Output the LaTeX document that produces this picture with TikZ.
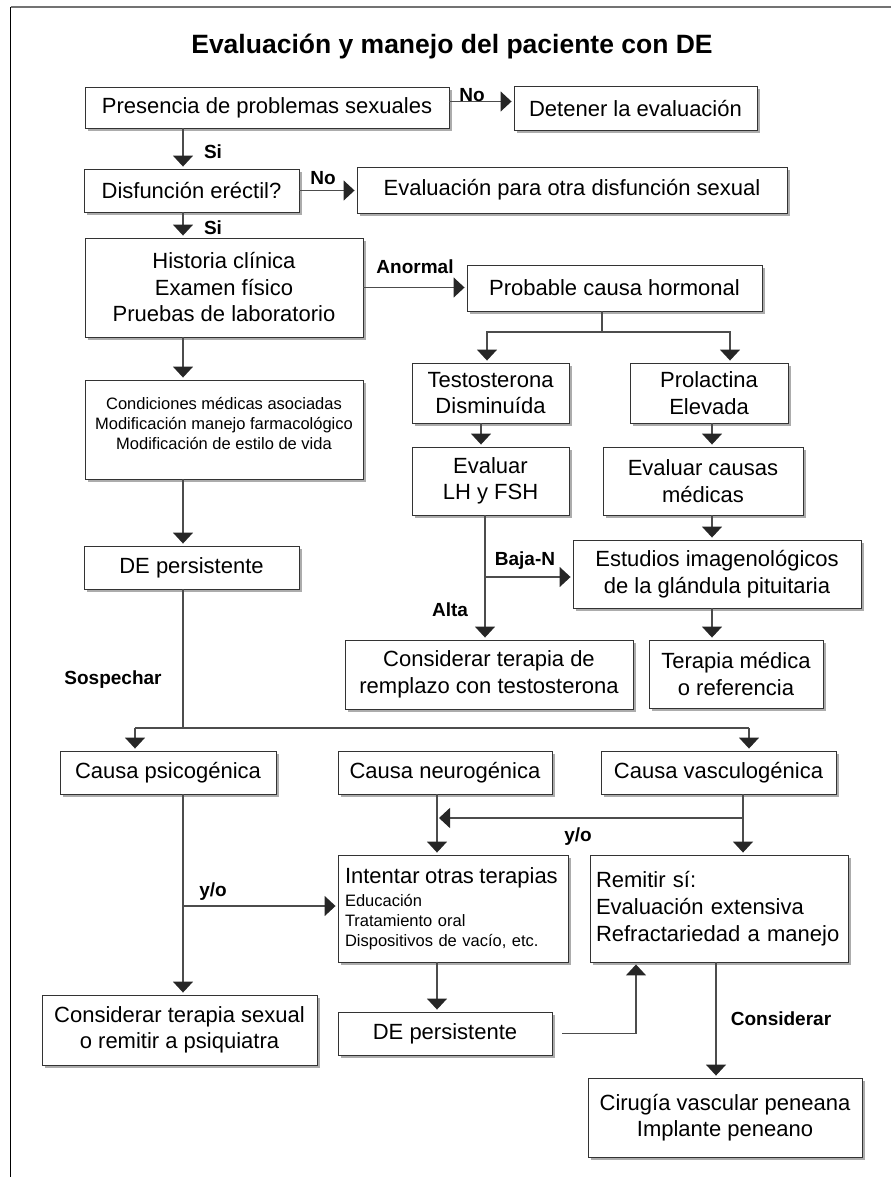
\documentclass[tikz,border=0pt]{standalone}
\usepackage{fontspec}
\setmainfont{Liberation Sans}
\usetikzlibrary{arrows.meta,shadows}

\tikzset{
  box/.style={draw=black!80, fill=white, line width=0.9pt, align=center, inner sep=0pt,
    font=\fontsize{22}{26.5}\selectfont,
    drop shadow={shadow xshift=3pt, shadow yshift=-3pt, fill=black!65, opacity=0.5}},
  sz/.style 2 args={minimum width=#1pt, minimum height=#2pt},
  lbl/.style={font=\bfseries\fontsize{19}{22}\selectfont, inner sep=0pt},
  ln/.style={draw=black!70, line width=1.5pt},
  arr/.style={ln, shorten >=2pt, -{Triangle[width=20pt,length=11pt,color=black!85]}},
}

\begin{document}
\begin{tikzpicture}[x=1pt,y=-1pt]
\useasboundingbox (0,0) rectangle (891,1177);
\draw[black!55, line width=2pt] (10.5,7) -- (891,7);
\draw[black, line width=1.5pt] (10.5,7) -- (10.5,1177);

\node[font=\bfseries\fontsize{26.5}{30}\selectfont] (title) at (452,47) {Evaluación y manejo del paciente con DE};

% left column
\node[box, sz={364}{41}] (pres) at (267,107.5) {Presencia de problemas sexuales};
\node[box, sz={243}{44}] (deten) at (635.5,108.5) {Detener la evaluación};
\node[box, sz={215}{43}] (disf) at (191.5,190.5) {Disfunción eréctil?};
\node[box, sz={430}{46}] (otra) at (572,190) {Evaluación para otra disfunción sexual};
\node[box, sz={278}{99}] (hist) at (224,287.5) {Historia clínica\\Examen físico\\Pruebas de laboratorio};
\node[box, sz={278}{99}, font=\fontsize{16.5}{20}\selectfont] (cond) at (224,429.5)
  {Condiciones médicas asociadas\\Modificación manejo farmacológico\\Modificación de estilo de vida\rule[-13pt]{0pt}{13pt}};
\node[box, sz={215}{43}] (dep1) at (191.5,567.5) {DE persistente};

% hormonal branch
\node[box, sz={295}{46}] (horm) at (614.5,288) {Probable causa hormonal};
\node[box, sz={157}{60}] (test) at (490.5,393) {Testosterona\\Disminuída};
\node[box, sz={158}{60}] (prol) at (709,393) {Prolactina\\Elevada};
\node[box, sz={157}{68}] (lhfsh) at (490.5,481) {Evaluar\\LH y FSH};
\node[box, sz={200}{68}] (evcm) at (703,481) {Evaluar causas\\médicas};
\node[box, sz={288}{68}] (estu) at (717,574) {Estudios imagenológicos\\de la glándula pituitaria};
\node[box, sz={288}{69}] (trt) at (489,674.5) {Considerar terapia de\\remplazo con testosterona};
\node[box, sz={174}{68}] (term) at (736,674) {Terapia médica\\o referencia};

% causes
\node[box, sz={216}{43}] (psic) at (168,772.5) {Causa psicogénica};
\node[box, sz={214}{43}] (neur) at (445,772.5) {Causa neurogénica};
\node[box, sz={235}{43}] (vasc) at (718.5,772.5) {Causa vasculogénica};
\node[box, sz={230}{107}, inner xsep=7pt, text width=216pt, align=left, font=\fontsize{16.5}{20}\selectfont] (inte) at (453,908.5)
  {{\fontsize{22}{26}\selectfont Intentar otras terapias}\\[3pt]Educación\\Tratamiento oral\\Dispositivos de vacío, etc.};
\node[box, sz={258}{107}, inner xsep=6pt, text width=246pt, align=left, font=\fontsize{22}{27}\selectfont] (remi) at (719,908.5)
  {Remitir sí:\\Evaluación extensiva\\Refractariedad a manejo};
\node[box, sz={275}{70}] (csex) at (179.5,1030) {Considerar terapia sexual\\o remitir a psiquiatra};
\node[box, sz={214}{43}] (dep2) at (445,1033.5) {DE persistente};
\node[box, sz={274}{79}] (ciru) at (725,1117.5) {Cirugía vascular peneana\\Implante peneano};

% columns and bends
\coordinate (lc) at (183,0);
\coordinate (pc) at (135,728);
\coordinate (vc) at (749,728);
\coordinate (hb) at (602,332);
\coordinate (ht) at (487,332);
\coordinate (hp) at (730,332);
\coordinate (tx) at (481,0);
\coordinate (px) at (712,0);
\coordinate (lx) at (485,0);
\coordinate (bn) at (485,577);
\coordinate (nx) at (437,0);
\coordinate (vx) at (743,0);
\coordinate (yo) at (743,818);
\coordinate (ly) at (183,906);
\coordinate (rx) at (636,0);
\coordinate (cx) at (716,0);

\draw[arr] ([yshift=6pt]pres.east) -- ([yshift=6pt]pres.east -| deten.west);
\draw[arr] (pres.south -| lc) -- (disf.north -| lc);
\draw[arr] (disf.east) -- (disf.east -| otra.west);
\draw[arr] (disf.south -| lc) -- (hist.north -| lc);
\draw[arr] (hist.east) -- (hist.east -| horm.west);
\draw[arr] (hist.south -| lc) -- (cond.north -| lc);
\draw[arr] (cond.south -| lc) -- (dep1.north -| lc);

\draw[ln] (horm.south -| hb) -- (hb);
\draw[arr] (hb) -| (ht |- test.north);
\draw[arr] (hb) -| (hp |- prol.north);
\draw[arr] (test.south -| tx) -- (lhfsh.north -| tx);
\draw[arr] (prol.south -| px) -- (evcm.north -| px);
\draw[arr] (evcm.south -| px) -- (estu.north -| px);
\draw[arr] (estu.south -| px) -- (term.north -| px);
\draw[arr] (lhfsh.south -| lx) -- (trt.north -| lx);
\draw[arr] (bn) -- (bn -| estu.west);

\draw[ln] (dep1.south -| lc) -- (lc |- pc);
\draw[ln] (pc) -- (vc);
\draw[arr] (pc) -- (pc |- psic.north);
\draw[arr] (vc) -- (vc |- vasc.north);

\draw[arr] (neur.south -| nx) -- (inte.north -| nx);
\draw[arr] (vasc.south -| vx) -- (remi.north -| vx);
\draw[arr] (yo) -- (yo -| nx);
\draw[arr] (psic.south -| lc) -- (csex.north -| lc);
\draw[arr] (ly) -- (ly -| inte.west);
\draw[arr] (inte.south -| nx) -- (dep2.north -| nx);
\draw[arr] ([xshift=10pt]dep2.east) -| (rx |- remi.south);
\draw[arr] (remi.south -| cx) -- (ciru.north -| cx);

% labels
\node[lbl] (no1) at (472,95) {No};
\node[lbl] (si1) at (213,152) {Si};
\node[lbl] (no2) at (323,178) {No};
\node[lbl] (si2) at (213,228) {Si};
\node[lbl] (anor) at (415,267) {Anormal};
\node[lbl] (baja) at (525,561) {Baja-N};
\node[lbl] (alta) at (450,610) {Alta};
\node[lbl] (sosp) at (113,680) {Sospechar};
\node[lbl] (yo1) at (578,837) {y/o};
\node[lbl] (yo2) at (213,892) {y/o};
\node[lbl] (cons) at (781,1019) {Considerar};
\end{tikzpicture}
\end{document}
